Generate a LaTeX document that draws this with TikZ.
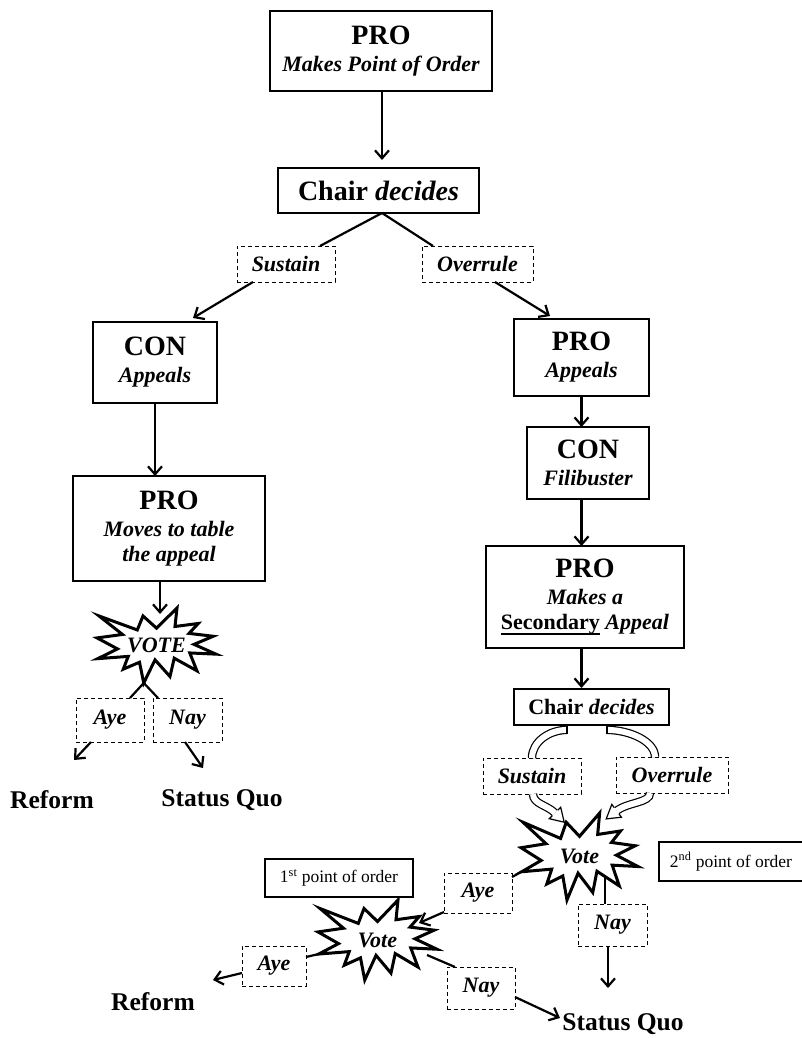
\documentclass[tikz,border=0pt]{standalone}
\usepackage{fontspec}
\setmainfont{Liberation Serif}
\usetikzlibrary{arrows.meta,calc}
\tikzset{
  every node/.style={inner sep=0pt, outer sep=0pt},
  box/.style={draw, line width=1.4pt, align=center, fill=white, font=\fontsize{22}{25}\selectfont\bfseries\itshape},
  dbox/.style={draw, dash pattern=on 4pt off 3pt, line width=1pt, fill=white, font=\fontsize{22}{25}\selectfont\bfseries\itshape},
  pobox/.style={draw, line width=2.6pt, fill=white, font=\fontsize{17.5}{20}\selectfont},
  result/.style={font=\fontsize{25.5}{28}\selectfont\bfseries},
  sealtext/.style={font=\fontsize{22}{25}\selectfont\bfseries\itshape},
  sealline/.style={draw, fill=white, line width=3pt, line join=miter},
  arr/.style={line width=2.2pt, -{Straight Barb[length=8pt,width=14pt]}},
  conn/.style={line width=2.2pt},
  band/.style={double=white, double distance=6pt, line width=1.2pt},
  bandcap/.style={line width=1.2pt},
  bandhead/.style={draw, fill=white, line width=1.2pt, line join=miter},
}
\newcommand\bigt[1]{{\fontsize{28}{28}\selectfont\upshape #1}}
\newcommand\ulin[1]{\setbox0\hbox{#1}\rlap{\rule[-5pt]{\wd0}{2pt}}\box0\relax}
\newcommand\sealshape[4]{\path[sealline, shift={(#1,#2)}, xscale=#3/216, yscale=#4/216]
 (108,58) -- (145.22,0) -- (141.55,53.25) -- (183.80,44.57) -- (167.02,73.15) -- (210.97,81.37)
 -- (176.07,104.75) -- (216,132.90) -- (168.37,129.42) -- (181.45,180.95) -- (140.20,144.57)
 -- (132.47,197.37) -- (105.32,149.35) -- (84.85,216) -- (77.15,156.27) -- (47.62,176.17)
 -- (56.67,139.37) -- (1.35,145.87) -- (37.22,117.75) -- (0,86.15) -- (46.27,76.17)
 -- (3.70,22.95) -- (73.12,63.20) -- (83.52,22.95) -- cycle;}
\begin{document}
\begin{tikzpicture}[x=1pt, y=-1pt]
\useasboundingbox (0,0) rectangle (801,1038);
% left column
\node[box, minimum width=222pt, minimum height=80pt] (top) at (381,51) {\bigt{PRO}\\[2pt] Makes Point of Order};
\node[box, minimum width=201pt, minimum height=45pt, font=\fontsize{28}{30}\selectfont\bfseries] (chair1) at (378.5,190.5) {Chair \textit{decides}};
\node[dbox, minimum width=98pt, minimum height=36pt] (sus1) at (286,264) {Sustain};
\node[dbox, minimum width=111pt, minimum height=36pt] (ove1) at (477.5,264) {Overrule};
\node[box, minimum width=124pt, minimum height=81pt] (con1) at (155,362.5) {\bigt{CON}\\[2pt] Appeals};
\node[box, minimum width=192pt, minimum height=105pt] (pro2) at (169,528.5) {\bigt{PRO}\\[2pt] Moves to table\\ the appeal};
\sealshape{97}{608}{119}{75}
\node[sealtext, minimum width=119pt, minimum height=75pt] (vote1) at (156.5,645.5) {VOTE};
\node[dbox, minimum width=68pt, minimum height=44pt] (aye1) at (110,720) {Aye};
\node[dbox, minimum width=69pt, minimum height=44pt] (nay1) at (187.5,720) {Nay};
\node[result] (ref1) at (52,800) {Reform};
\node[result] (sq1) at (222,800) {Status Quo};
% right column
\node[box, minimum width=135pt, minimum height=77pt] (pro3) at (581.5,357.5) {\bigt{PRO}\\[2pt] Appeals};
\node[box, minimum width=122pt, minimum height=72pt] (con2) at (588,463) {\bigt{CON}\\[2pt] Filibuster};
\node[box, minimum width=198pt, minimum height=102pt] (pro4) at (585,597) {\bigt{PRO}\\[2pt] Makes a\\ \ulin{\upshape Secondary} Appeal};
\node[box, minimum width=155pt, minimum height=36pt, font=\fontsize{22}{25}\selectfont\bfseries] (chair2) at (591.5,707) {Chair \textit{decides}};
\node[dbox, minimum width=98pt, minimum height=36pt] (sus2) at (532,776) {Sustain};
\node[dbox, minimum width=112pt, minimum height=36pt] (ove2) at (672,775) {Overrule};
\sealshape{521}{813}{117}{87}
\node[sealtext, minimum width=117pt, minimum height=87pt] (vote2) at (579.5,856.5) {Vote};
\node[pobox, minimum width=144pt, minimum height=39pt] (po2) at (731,861.5) {2\textsuperscript{nd} point of order};
\node[dbox, minimum width=68pt, minimum height=40pt] (aye2) at (478,893) {Aye};
\node[dbox, minimum width=69pt, minimum height=42pt] (nay2) at (612.5,925) {Nay};
\sealshape{318}{900}{119}{80}
\node[sealtext, minimum width=119pt, minimum height=80pt] (vote3) at (377.5,940) {Vote};
\node[pobox, minimum width=148pt, minimum height=38pt] (po1) at (339,878) {1\textsuperscript{st} point of order};
\node[dbox, minimum width=64pt, minimum height=40pt] (aye3) at (274,966) {Aye};
\node[dbox, minimum width=68pt, minimum height=42pt] (nay3) at (481,988) {Nay};
\node[result] (ref2) at (153,1002) {Reform};
\node[result] (sq2) at (623,1024) {Status Quo};
% connectors
\coordinate (c1) at ($(chair1.north)+(3.5,0)$);
\draw[arr] (top.south -| c1) -- ($(c1)+(0,-8)$);
\draw[conn] ($(chair1.south)+(3.5,0)$) -- ($(sus1.north east)+(-15,0)$);
\draw[conn] ($(chair1.south)+(3.5,0)$) -- ($(ove1.north west)+(11,0)$);
\draw[arr] ($(sus1.south west)+(16,0)$) -- ($(con1.north east)+(-24,-4)$);
\draw[arr] ($(ove1.south west)+(73,0)$) -- ($(pro3.north west)+(36,-3)$);
\draw[arr] (con1.south) -- (con1.south |- pro2.north);
\draw[arr] ($(pro2.south)+(-9,0)$) -- ($(vote1.north)+(3.5,6)$);
\coordinate (v1b) at ($(vote1.south west)!0.393!(vote1.south east)$);
\draw[conn] (v1b) -- ($(aye1.north east)+(-14,0)$);
\draw[conn] (v1b) -- ($(nay1.north west)+(5,0)$);
\draw[arr] ($(aye1.south west)+(15,0)$) -- ++(-17,18);
\draw[arr] ($(nay1.south west)+(32,0)$) -- ++(18,26);
\draw[arr] (pro3.south) -- (pro3.south |- con2.north);
\draw[arr] (con2.south -| pro3.south) -- (pro3.south |- pro4.north);
\draw[arr] (pro4.south -| pro3.south) -- ($(pro3.south |- chair2.north)+(0,-1)$);
% curved block arrows
\coordinate (b1) at ($(chair2.south)+(-24.5,4.9)$);
\coordinate (b2) at ($(chair2.south)+(15.5,4.9)$);
\draw[band] (b1) .. controls +(-18,0) and +(0,-16) .. (sus2.north);
\draw[bandcap] ($(b1)+(0,-4.2)$) -- ($(b1)+(0,4.2)$);
\draw[band] (b2) .. controls +(22,0) and +(0,-16) .. ($(ove2.north)+(-17,0)$);
\draw[bandcap] ($(b2)+(0,-4.2)$) -- ($(b2)+(0,4.2)$);
\coordinate (h3) at (555,813);
\draw[band] ($(sus2.south)+(1,0)$) .. controls +(0,10) and +(-8,-8) .. (h3);
\path[bandhead] (552.2,815.8) -- (549.3,818.7) -- (564.2,822.2) -- (560.7,807.3) -- (557.8,810.2);
\coordinate (h4) at (616.6,810.8);
\draw[band] ($(ove2.south)+(-22,0)$) .. controls +(0,10) and +(12,-9) .. (h4);
\path[bandhead] (614.2,807.6) -- (611.8,804.4) -- (606.2,818.9) -- (621.4,817.2) -- (619.0,814.0);
% lower part
\coordinate (v2l) at ($(vote2.north west)+(0.7,58.7)$);
\draw[conn] (v2l) -- ($(aye2.north east)+(0,4)$);
\draw[arr] ($(aye2.south west)+(0,-1)$) -- ++(-25,11);
\draw[conn] ($(nay2.north)+(-7.5,-27)$) -- ($(nay2.north)+(-7.5,0)$);
\draw[arr] ($(nay2.south)+(-4.5,0)$) -- ++(0,42);
\coordinate (v3l) at ($(vote3.north west)+(0.7,54)$);
\draw[conn] (v3l) -- ($(aye3.east)+(0,-9)$);
\draw[arr] ($(aye3.west)+(0,7)$) -- ++(-29,7);
\draw[conn] ($(nay3.north west)+(8,0)$) -- ++(-28,-12);
\draw[arr] ($(nay3.east)+(0,9)$) -- ++(45,21);
\end{tikzpicture}
\end{document}
